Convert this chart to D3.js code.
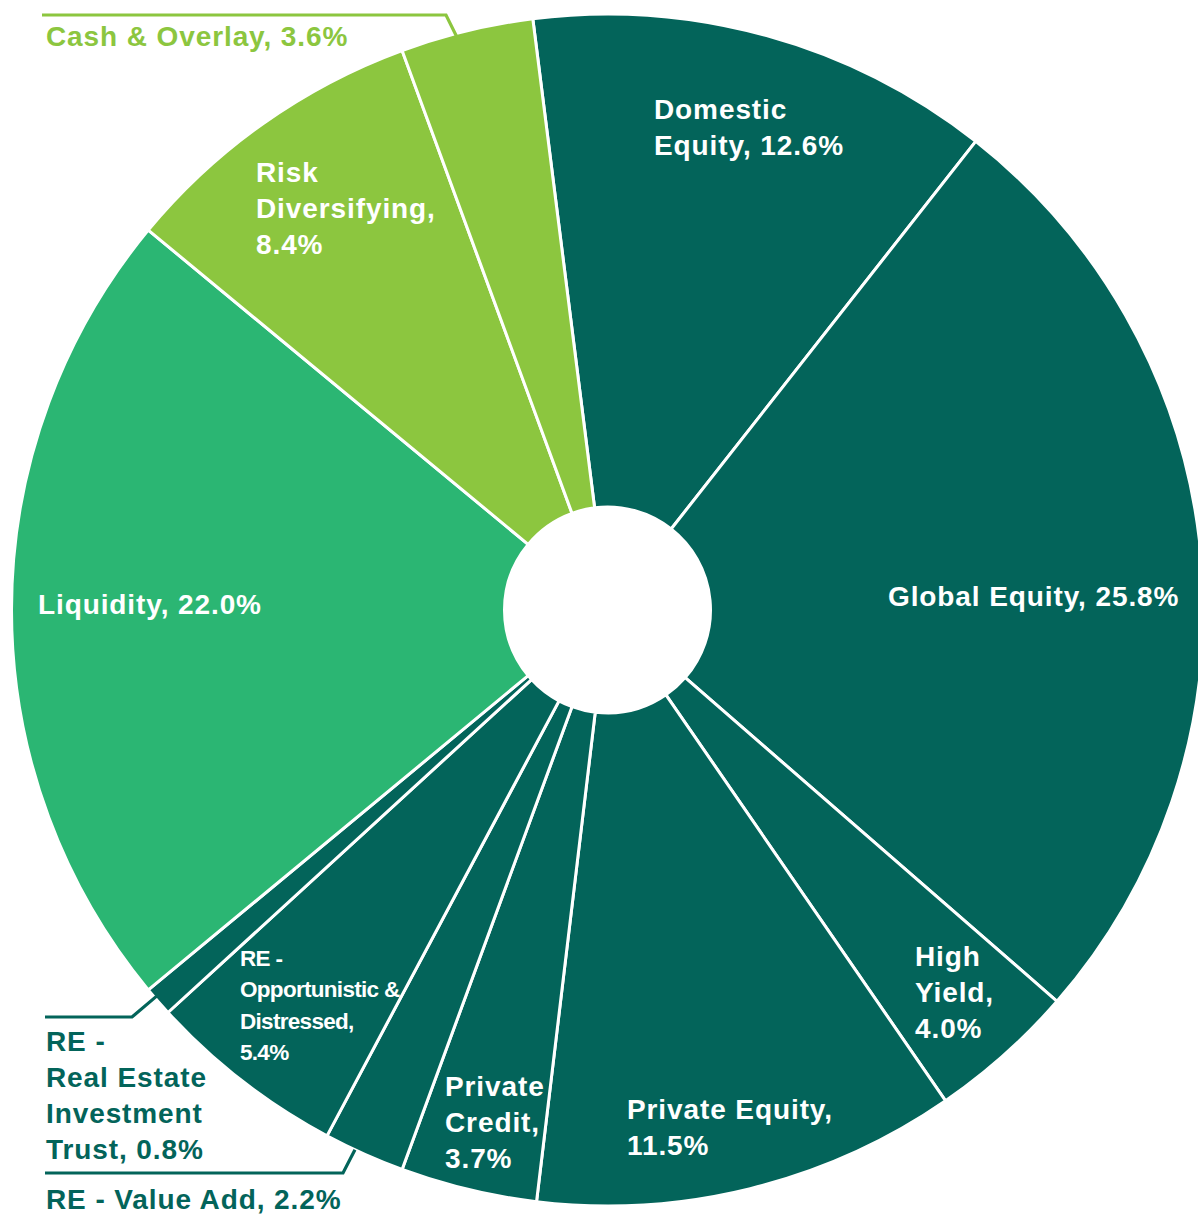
<!DOCTYPE html>
<html>
<head>
<meta charset="utf-8">
<script src="https://cdn.jsdelivr.net/npm/d3@7"></script>
<style>
  html, body { margin: 0; padding: 0; background: #ffffff; }
  svg { display: block; }
  text { font-family: "Liberation Sans", Arial, Helvetica, sans-serif; font-weight: bold; }
</style>
</head>
<body>
<svg id="chart" width="1198" height="1214"></svg>
<script>
// ---------------- DATA ----------------
const categories = [
  "Domestic Equity", "Global Equity", "High Yield", "Private Equity", "Private Credit",
  "RE - Value Add", "RE - Opportunistic & Distressed", "RE - Real Estate Investment Trust",
  "Liquidity", "Risk Diversifying", "Cash & Overlay"
];
const values = [12.6, 25.8, 4.0, 11.5, 3.7, 2.2, 5.4, 0.8, 22.0, 8.4, 3.6];
const groups = ["growth", "growth", "growth", "growth", "growth", "growth", "growth", "growth",
                "liquidity", "diversifying", "diversifying"];
// label line templates ({v} = value)
const labelLines = [
  ["Domestic", "Equity, {v}"],
  ["Global Equity, {v}"],
  ["High", "Yield,", "{v}"],
  ["Private Equity,", "{v}"],
  ["Private", "Credit,", "{v}"],
  ["RE - Value Add, {v}"],
  ["RE -", "Opportunistic &", "Distressed,", "{v}"],
  ["RE -", "Real Estate", "Investment", "Trust, {v}"],
  ["Liquidity, {v}"],
  ["Risk", "Diversifying,", "{v}"],
  ["Cash & Overlay, {v}"]
];

// ---------------- STYLE / LAYOUT ----------------
const W = 1198, H = 1214;
const cx = 607.5, cy = 610, outerR = 596, innerR = 103;
const startDeg = -7.2;
const groupColor = { growth: "#03645A", liquidity: "#2BB673", diversifying: "#8CC63F" };

// label placement: x, first baseline y, line height, font size, letter spacing, fill
const labelLayout = [
  { x: 654, y: 119, lh: 36, fs: 28, ls: 0.9, fill: "#ffffff" },
  { x: 888, y: 606, lh: 36, fs: 28, ls: 0.9, fill: "#ffffff" },
  { x: 915, y: 966, lh: 36, fs: 28, ls: 0.9, fill: "#ffffff" },
  { x: 627, y: 1119, lh: 36, fs: 28, ls: 0.9, fill: "#ffffff" },
  { x: 445, y: 1096, lh: 36, fs: 28, ls: 0.9, fill: "#ffffff" },
  { x: 46, y: 1209, lh: 36, fs: 28, ls: 0.9, fill: "#03645A" },
  { x: 240, y: 966, lh: 31.3, fs: 22.5, ls: -0.7, fill: "#ffffff" },
  { x: 46, y: 1051, lh: 36, fs: 28, ls: 0.9, fill: "#03645A" },
  { x: 38, y: 614, lh: 36, fs: 28, ls: 0.9, fill: "#ffffff" },
  { x: 256, y: 182, lh: 36, fs: 28, ls: 0.9, fill: "#ffffff" },
  { x: 46, y: 46, lh: 36, fs: 28, ls: 0.9, fill: "#8CC63F" }
];
// leader lines for outside labels: slice index, fraction inside slice, radius, line y, start x, knee x
const leaders = [
  { i: 10, frac: 0.42, r: 592, y: 15, x0: 42, xk: 446, color: "#8CC63F" },
  { i: 7, frac: 0.66, r: 594, y: 1017, x0: 45, xk: 132, color: "#03645A" },
  { i: 5, frac: 0.62, r: 596, y: 1173, x0: 45, xk: 343, color: "#03645A" }
];

// ---------------- DRAW ----------------
const svg = d3.select("#chart");
const toRad = d => d * Math.PI / 180;
const pie = d3.pie().sort(null).value(d => d)
  .startAngle(toRad(startDeg)).endAngle(toRad(startDeg + 360));
const arcs = pie(values);
const arc = d3.arc().innerRadius(innerR).outerRadius(outerR);

const g = svg.append("g").attr("transform", `translate(${cx},${cy})`);
g.selectAll("path.slice").data(arcs).enter().append("path")
  .attr("class", "slice")
  .attr("d", arc)
  .attr("fill", (d, i) => groupColor[groups[i]])
  .attr("stroke", "#ffffff")
  .attr("stroke-width", 3)
  .attr("stroke-linejoin", "miter");

// leader lines
leaders.forEach(L => {
  const a = arcs[L.i];
  const ang = a.startAngle + (a.endAngle - a.startAngle) * L.frac;
  const ex = cx + L.r * Math.sin(ang);
  const ey = cy - L.r * Math.cos(ang);
  svg.append("path")
    .attr("d", d3.line()([[L.x0, L.y], [L.xk, L.y], [ex, ey]]))
    .attr("fill", "none")
    .attr("stroke", L.color)
    .attr("stroke-width", 3.2);
});

// labels
const fmt = v => d3.format(".1f")(v) + "%";
labelLines.forEach((lines, i) => {
  const L = labelLayout[i];
  const t = svg.append("text")
    .attr("x", L.x).attr("y", L.y)
    .attr("fill", L.fill)
    .attr("font-size", L.fs)
    .attr("letter-spacing", L.ls);
  lines.forEach((ln, k) => {
    t.append("tspan")
      .attr("x", L.x)
      .attr("y", L.y + k * L.lh)
      .text(ln.replace("{v}", fmt(values[i])));
  });
});
</script>
</body>
</html>
